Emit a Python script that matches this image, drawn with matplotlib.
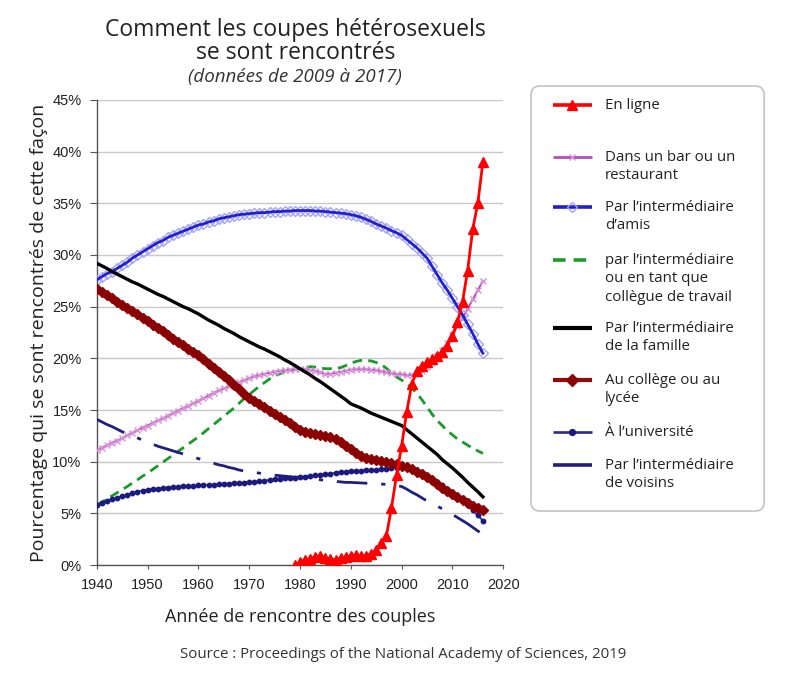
import matplotlib.pyplot as plt
import matplotlib.ticker as mticker
from matplotlib.patches import FancyBboxPatch
import numpy as np

# --- data (percent of couples, per year of meeting) ---
years = list(range(1940, 2017))

amis = [27.6, 27.9, 28.2, 28.4, 28.7, 29.0, 29.3, 29.7, 30.0, 30.3,
        30.6, 30.9, 31.2, 31.4, 31.7, 31.9, 32.1, 32.3, 32.5, 32.7,
        32.9, 33.0, 33.2, 33.3, 33.5, 33.6, 33.7, 33.8, 33.9, 33.95,
        34.0, 34.05, 34.1, 34.1, 34.15, 34.2, 34.2, 34.25, 34.25, 34.3,
        34.3, 34.3, 34.3, 34.25, 34.25, 34.2, 34.15, 34.1, 34.05, 34.0,
        33.9, 33.8, 33.65, 33.45, 33.25, 33.0, 32.8, 32.6, 32.35, 32.15,
        31.9, 31.5, 31.1, 30.7, 30.2, 29.7, 28.9, 28.1, 27.3, 26.6,
        25.8, 25.0, 24.2, 23.3, 22.4, 21.4, 20.5]

famille = [29.2, 28.95, 28.7, 28.4, 28.15, 27.9, 27.65, 27.4, 27.2, 26.95,
           26.7, 26.45, 26.2, 26.0, 25.75, 25.5, 25.25, 25.0, 24.8, 24.55,
           24.3, 24.0, 23.7, 23.45, 23.2, 22.9, 22.65, 22.4, 22.1, 21.85,
           21.6, 21.35, 21.1, 20.9, 20.65, 20.4, 20.15, 19.85, 19.6, 19.3,
           19.0, 18.7, 18.4, 18.05, 17.75, 17.4, 17.05, 16.7, 16.35, 16.0,
           15.6, 15.4, 15.2, 14.95, 14.7, 14.5, 14.3, 14.1, 13.9, 13.7,
           13.5, 13.1, 12.7, 12.3, 11.9, 11.5, 11.1, 10.7, 10.2, 9.8,
           9.4, 8.95, 8.5, 8.0, 7.55, 7.1, 6.6]

college = [26.7, 26.4, 26.1, 25.8, 25.5, 25.2, 24.9, 24.6, 24.25, 23.9,
           23.6, 23.25, 22.9, 22.6, 22.25, 21.9, 21.6, 21.25, 20.95, 20.6,
           20.3, 19.9, 19.5, 19.1, 18.7, 18.3, 17.9, 17.45, 17.05, 16.6,
           16.2, 15.9, 15.55, 15.25, 14.9, 14.6, 14.3, 14.0, 13.7, 13.4,
           13.1, 12.9, 12.75, 12.65, 12.6, 12.5, 12.35, 12.15, 11.9, 11.55,
           11.2, 10.85, 10.55, 10.4, 10.3, 10.2, 10.1, 10.0, 9.9, 9.75,
           9.6, 9.45, 9.3, 9.05, 8.8, 8.5, 8.2, 7.85, 7.5, 7.2,
           6.9, 6.6, 6.3, 6.0, 5.75, 5.5, 5.3]

universite = [5.8, 6.0, 6.2, 6.35, 6.5, 6.65, 6.8, 6.95, 7.1, 7.2,
              7.3, 7.35, 7.4, 7.45, 7.5, 7.55, 7.6, 7.62, 7.65, 7.68,
              7.7, 7.73, 7.76, 7.79, 7.82, 7.85, 7.88, 7.91, 7.94, 7.97,
              8.0, 8.05, 8.1, 8.17, 8.24, 8.3, 8.35, 8.4, 8.44, 8.47,
              8.5, 8.56, 8.62, 8.68, 8.74, 8.8, 8.86, 8.92, 8.98, 9.04,
              9.1, 9.12, 9.14, 9.16, 9.18, 9.2, 9.26, 9.32, 9.38, 9.44,
              9.5, 9.45, 9.3, 9.1, 8.85, 8.6, 8.3, 8.0, 7.7, 7.4,
              7.1, 6.7, 6.3, 5.8, 5.3, 4.8, 4.3]

voisins = [14.1, 13.85, 13.6, 13.4, 13.15, 12.9, 12.7, 12.5, 12.3, 12.1,
           11.9, 11.7, 11.5, 11.35, 11.2, 11.05, 10.9, 10.75, 10.6, 10.45,
           10.3, 10.15, 10.0, 9.85, 9.7, 9.6, 9.45, 9.35, 9.2, 9.1,
           9.0, 8.95, 8.9, 8.8, 8.75, 8.7, 8.65, 8.6, 8.55, 8.5,
           8.5, 8.45, 8.4, 8.35, 8.25, 8.2, 8.15, 8.1, 8.05, 8.0,
           8.0, 7.97, 7.95, 7.92, 7.9, 7.87, 7.84, 7.8, 7.75, 7.7,
           7.6, 7.35, 7.05, 6.8, 6.5, 6.2, 5.95, 5.7, 5.45, 5.2,
           4.9, 4.6, 4.3, 4.0, 3.65, 3.3, 3.0]

bar = [11.1, 11.35, 11.6, 11.85, 12.05, 12.3, 12.55, 12.8, 13.05, 13.3,
       13.5, 13.75, 14.0, 14.2, 14.45, 14.7, 14.95, 15.2, 15.4, 15.65,
       15.9, 16.15, 16.4, 16.65, 16.9, 17.1, 17.3, 17.5, 17.7, 17.9,
       18.1, 18.25, 18.4, 18.5, 18.6, 18.7, 18.8, 18.85, 18.9, 18.95,
       19.0, 18.95, 18.9, 18.8, 18.65, 18.5, 18.5, 18.6, 18.7, 18.8,
       18.9, 18.95, 18.95, 18.95, 18.9, 18.85, 18.75, 18.65, 18.55, 18.5,
       18.45, 18.4, 18.4, 18.55, 18.8, 19.15, 19.6, 20.2, 20.8, 21.5,
       22.3, 23.1, 23.9, 24.8, 25.7, 26.6, 27.5]

travail = [5.8, 6.1, 6.4, 6.7, 7.0, 7.3, 7.6, 7.95, 8.25, 8.6,
           8.9, 9.25, 9.6, 9.95, 10.3, 10.65, 11.0, 11.35, 11.7, 12.05,
           12.4, 12.8, 13.2, 13.6, 14.0, 14.4, 14.8, 15.2, 15.65, 16.1,
           16.5, 16.9, 17.3, 17.65, 18.0, 18.3, 18.5, 18.7, 18.85, 18.95,
           19.0, 19.1, 19.2, 19.15, 19.05, 19.0, 19.0, 19.05, 19.1, 19.3,
           19.5, 19.7, 19.8, 19.8, 19.75, 19.6, 19.4, 19.05, 18.6, 18.2,
           17.9, 17.55, 17.15, 16.6, 16.0, 15.3, 14.6, 14.0, 13.5, 13.0,
           12.6, 12.2, 11.9, 11.6, 11.3, 11.05, 10.8]

years_online = list(range(1979, 2017))
en_ligne = [0.0, 0.3, 0.5, 0.6, 0.8, 0.9, 0.7, 0.6, 0.5, 0.7,
            0.8, 0.9, 1.0, 0.9, 0.9, 1.1, 1.5, 2.1, 2.8, 5.5,
            8.7, 11.5, 14.8, 17.5, 18.8, 19.3, 19.6, 19.9, 20.2, 20.6,
            21.2, 22.2, 23.5, 25.5, 28.5, 32.5, 35.0, 39.0]

y_ticks = [0, 5, 10, 15, 20, 25, 30, 35, 40, 45]
x_ticks = [1940, 1950, 1960, 1970, 1980, 1990, 2000, 2010, 2020]

TXT = '#222222'
SANS = ['Open Sans', 'DejaVu Sans']

fig = plt.figure(figsize=(8, 6.8), dpi=100)
ax = fig.add_axes([0.121, 0.169, 0.508, 0.684])

# series styles, in legend order
series = [
    dict(x=years_online, y=en_ligne, label='En ligne',
         color='#ff0000', lw=2.0, ls='-', marker='^', ms=6.5, mfc='#ff0000', mec='#ff0000', z=9),
    dict(x=years, y=bar, label='Dans un bar ou un\nrestaurant',
         color='#b84cb8', lw=1.4, ls='-', marker='x', ms=4, mfc='#c060c0', mec='#d890d8', z=5),
    dict(x=years, y=amis, label='Par l\u2019intermédiaire\nd\u2019amis',
         color='#2020d0', lw=2.0, ls='-', marker='D', ms=4.6, mfc='none', mec='#a4a4f4', z=6),
    dict(x=years, y=travail, label='par l\u2019intermédiaire\nou en tant que\ncollègue de travail',
         color='#1a9a2a', lw=2.0, ls=(0, (3.5, 2.2)), marker=None, ms=0, mfc=None, mec=None, z=4),
    dict(x=years, y=famille, label='Par l\u2019intermédiaire\nde la famille',
         color='#000000', lw=2.4, ls='-', marker=None, ms=0, mfc=None, mec=None, z=7),
    dict(x=years, y=college, label='Au collège ou au\nlycée',
         color='#8e0c0c', lw=3.2, ls='-', marker='D', ms=4.8, mfc='#8b0000', mec='#8b0000', z=6),
    dict(x=years, y=universite, label='À l\u2019université',
         color='#2a2a90', lw=1.3, ls='-', marker='o', ms=3.2, mfc='#1a1a80', mec='#1a1a80', z=5),
    dict(x=years, y=voisins, label='Par l\u2019intermédiaire\nde voisins',
         color='#1f1f80', lw=2.0, ls=(0, (11, 5, 1.5, 5)), marker=None, ms=0, mfc=None, mec=None, z=4),
]

for s in series:
    if s['mfc'] == 'none':
        # open markers under the line, so the line stays on top
        ax.plot(s['x'], s['y'], ls='none', marker=s['marker'], ms=s['ms'],
                mfc='none', mec=s['mec'], mew=1.0, zorder=s['z'])
        ax.plot(s['x'], s['y'], color=s['color'], lw=s['lw'], zorder=s['z'] + 0.1)
        continue
    ax.plot(s['x'], s['y'], color=s['color'], lw=s['lw'], ls=s['ls'],
            marker=s['marker'], ms=s['ms'], mfc=s['mfc'], mec=s['mec'],
            mew=1.0, zorder=s['z'])

ax.set_xlim(1940, 2020)
ax.set_ylim(0, 45)
ax.set_xticks(x_ticks)
ax.set_yticks(y_ticks)
ax.yaxis.set_major_formatter(mticker.FuncFormatter(lambda v, p: '%d%%' % v))
ax.grid(axis='y', color='#c8c8c8', lw=1.0)
ax.set_axisbelow(True)
for side in ['top', 'right']:
    ax.spines[side].set_visible(False)
for side in ['left', 'bottom']:
    ax.spines[side].set_color('#555555')
    ax.spines[side].set_linewidth(1.0)
ax.tick_params(axis='y', length=5, color='#555555', labelsize=10.5, labelcolor=TXT, pad=6)
ax.tick_params(axis='x', length=3, color='#555555', labelsize=10.5, labelcolor=TXT, pad=6)
for lab in ax.get_xticklabels() + ax.get_yticklabels():
    lab.set_family(['Liberation Sans', 'DejaVu Sans'])

ax.set_ylabel('Pourcentage qui se sont rencontrés de cette façon',
              fontsize=14, family=SANS, fontweight='medium', color=TXT, labelpad=3)
ax.set_xlabel('Année de rencontre des couples',
              fontsize=13, family=SANS, fontweight='medium', color=TXT, labelpad=12)

fig.text(0.369, 0.956, 'Comment les coupes hétérosexuels', ha='center', va='center',
         fontsize=16.5, family=SANS, color=TXT)
fig.text(0.369, 0.922, 'se sont rencontrés', ha='center', va='center',
         fontsize=16.5, family=SANS, color=TXT)
fig.text(0.369, 0.887, '(données de 2009 à 2017)', ha='center', va='center',
         fontsize=13.5, family=SANS, style='italic', color='#333333')
fig.text(0.504, 0.037, 'Source : Proceedings of the National Academy of Sciences, 2019',
         ha='center', va='center', fontsize=10.8, family=SANS, color='#333333')

# --- legend drawn by hand in its own box ---
lax = fig.add_axes([0.6625, 0.247, 0.294, 0.628])
lax.set_xlim(0, 235)
lax.set_ylim(427, 0)
lax.axis('off')
box = FancyBboxPatch((1, 1), 233, 425, boxstyle='round,pad=0,rounding_size=9',
                     fc='white', ec='#c4c4c4', lw=1.2)
lax.add_patch(box)

entry_y = [20, 72, 122, 175, 243, 295, 347, 380]
for s, yy in zip(series, entry_y):
    lax.plot([23, 62], [yy, yy], color=s['color'], lw=min(s['lw'] + 0.6, 3.0), ls=s['ls'],
             solid_capstyle='butt')
    if s['marker']:
        lax.plot([42], [yy], marker=s['marker'], ms=s['ms'] + 1, mfc=s['mfc'],
                 mec=s['mec'], mew=1.0, color=s['color'])
    for i, line in enumerate(s['label'].split('\n')):
        lax.text(75, yy + i * 18.5, line, ha='left', va='center', fontsize=10.8,
                 family=SANS, color=TXT)

fig.savefig('out.png', dpi=100)
